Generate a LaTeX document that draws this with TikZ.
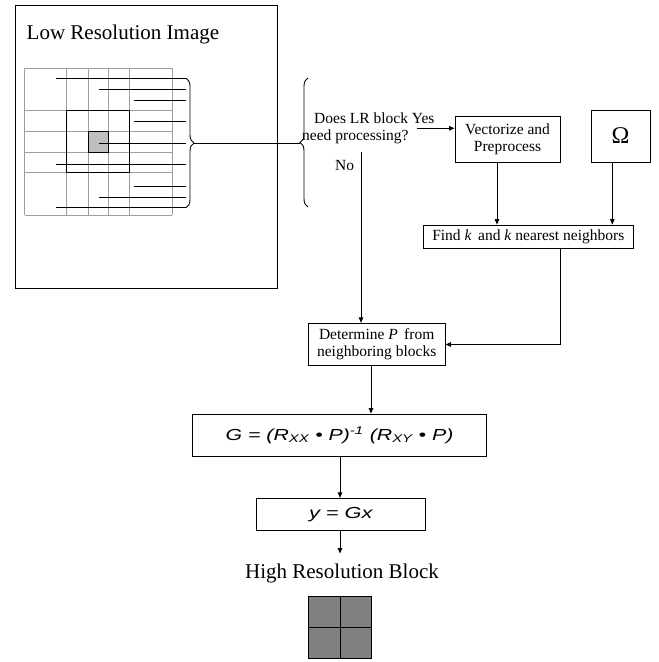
\documentclass[tikz,border=0pt]{standalone}
\usepackage{fontspec}
\usepackage{graphicx}
\setmainfont{Liberation Serif}
\newfontfamily\arialfont{Liberation Sans}
\usetikzlibrary{arrows.meta,decorations.pathreplacing}
\tikzset{
  boxnode/.style={draw=black,line width=0.9pt,inner sep=0pt,align=center,font=\fontsize{15.5}{17}\selectfont},
  arr/.style={line width=0.9pt,-{Triangle[length=5.5pt,width=4.5pt]}},
  conn/.style={line width=0.9pt},
  gridline/.style={draw=black!38,line width=0.9pt},
  blkline/.style={line width=0.9pt},
  smalltext/.style={inner sep=0pt,font=\fontsize{15.5}{17}\selectfont},
  bigtext/.style={inner sep=0pt,font=\fontsize{21}{24}\selectfont},
  formula/.style={font=\arialfont\itshape\fontsize{16}{18}\selectfont},
  bracedec/.style={line width=0.9pt,decorate,decoration={brace,amplitude=8pt}}
}
\begin{document}
\begin{tikzpicture}[x=1pt,y=-1pt]
\useasboundingbox (0,0) rectangle (659,662);
% outer image frame
\node[draw=black,line width=0.9pt,minimum width=262pt,minimum height=283pt,inner sep=0pt] (frame) at (146,146.5) {};
\node[bigtext,anchor=base west] (title) at (26.5,39) {Low Resolution Image};
% grid
\foreach \xx in {24.7,66.7,88,108.7,129.7,172.3}
  \draw[gridline] (\xx,68) -- (\xx,215);
\foreach \yy in {68,110.7,131.3,152,172.7,215}
  \draw[gridline] (24.7,\yy) -- (172.3,\yy);
\draw[blkline] (66.7,110.7) rectangle (129.7,172.7);
\draw[blkline,fill=black!25] (88,131.3) rectangle (108.7,152);
% lines to brace
\foreach \ys/\xs in {78.3/56,89.3/99.3,100/134,121.3/134,143/99.3,164.7/56,186.3/134,197/99.3,207.7/56}
  \draw[blkline] (\xs,\ys) -- (186,\ys);
\coordinate (b1top) at (186,78.3);
\coordinate (b1bot) at (186,207.7);
\draw[bracedec] (b1top) -- (b1bot);
\coordinate (b1tip) at (194,143);
\coordinate (b2tip) at (300,143);
\draw[conn] (b1tip) -- (b2tip);
\coordinate (b2top) at (308,78);
\coordinate (b2bot) at (308,207);
\draw[bracedec] (b2bot) -- (b2top);
% decision text
\node[smalltext,anchor=base west] (q1) at (314,123.3) {Does LR block Yes};
\node[smalltext,anchor=base west] (q2) at (302,140) {need processing?};
\node[smalltext,anchor=base west] (no) at (335,170.7) {No};
% boxes
\node[boxnode,minimum width=105pt,minimum height=45.5pt] (vec) at (507.5,139.5) {Vectorize and\\Preprocess};
\node[boxnode,minimum width=59pt,minimum height=52pt,font=\fontsize{24}{26}\selectfont] (omega) at (620.5,136) {Ω};
\node[boxnode,minimum width=210pt,minimum height=23.3pt] (find) at (528.3,236.7) {Find \textit{k}\, and \textit{k} nearest neighbors};
\node[boxnode,minimum width=136.7pt,minimum height=42.4pt] (det) at (376.7,344.5) {Determine \textit{P}\, from\\neighboring blocks};
\node[boxnode,minimum width=294.4pt,minimum height=42pt,formula] (gbox) at (339.5,435) {\scalebox{1.33}[1]{G = (R\textsubscript{XX} • P)\textsuperscript{-1} (R\textsubscript{XY} • P)}};
\node[boxnode,minimum width=168.3pt,minimum height=31.7pt,formula] (ygx) at (340.8,514.2) {\scalebox{1.36}[1]{y = Gx}};
\node[bigtext,anchor=base] (hr) at (342,578.3) {High Resolution Block};
% HR block
\node[draw=black,line width=0.9pt,fill=black!50,minimum width=63.4pt,minimum height=61.6pt,inner sep=0pt] (hrblk) at (340,627.5) {};
\draw[blkline] (hrblk.north) -- (hrblk.south);
\draw[blkline] (hrblk.west) -- (hrblk.east);
% connectors
\coordinate (yesstart) at (416.7,128.3);
\draw[arr] (yesstart) -- (yesstart -| vec.west);
\coordinate (nostart) at (361,152);
\draw[arr] (nostart) -- (nostart |- det.north);
\draw[arr] ([xshift=-10.5pt]vec.south) -- ([xshift=-10.5pt]vec.south |- find.north);
\draw[arr] ([xshift=-8.2pt]omega.south) -- ([xshift=-8.2pt]omega.south |- find.north);
\draw[arr] ([xshift=32.4pt]find.south) |- (det.east);
\draw[arr] ([xshift=-5.7pt]det.south) -- ([xshift=-5.7pt]det.south |- gbox.north);
\draw[arr] ([xshift=0.5pt]gbox.south) -- ([xshift=0.5pt]gbox.south |- ygx.north);
\draw[arr] ([xshift=-0.8pt]ygx.south) -- ++(0,23);
\end{tikzpicture}
\end{document}
